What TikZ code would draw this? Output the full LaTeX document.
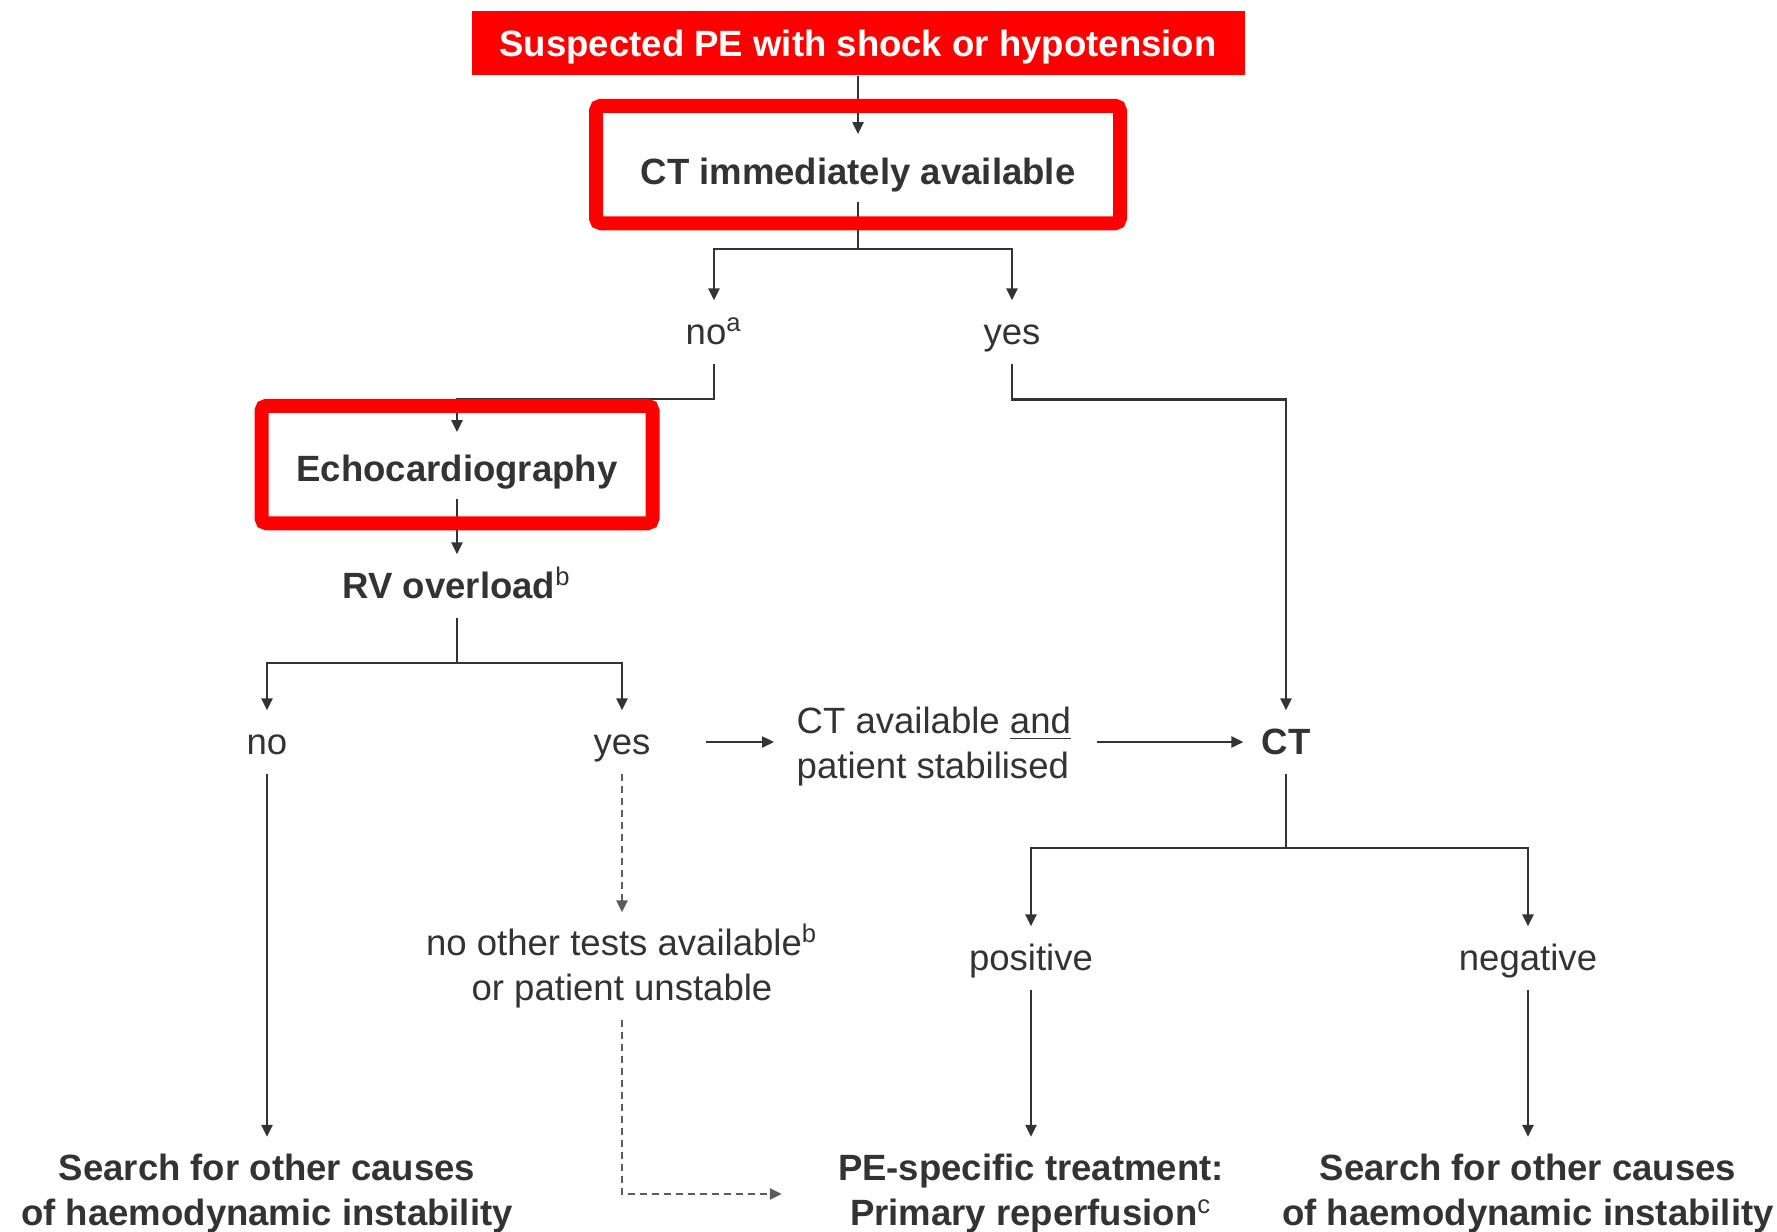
\documentclass[tikz,border=0pt]{standalone}
\usepackage{fontspec}
\setmainfont{Liberation Sans}
\usetikzlibrary{positioning,arrows.meta,backgrounds}
\definecolor{pered}{HTML}{FF0000}
\definecolor{ink}{HTML}{333333}

\begin{document}
\begin{tikzpicture}[
    on grid,
    every node/.style={text=ink},
    titlebox/.style={rectangle, fill=pered, text=white, minimum width=7.73cm, minimum height=0.64cm, inner sep=0pt, text height=9.6pt, text depth=2.2pt, font=\fontsize{10.4pt}{12.8pt}\selectfont\bfseries},
    redbox/.style={rectangle, draw=pered, line width=0.14cm, rounded corners=0.05cm, minimum height=1.175cm, inner sep=0pt, text depth=2.2pt, font=\fontsize{10.4pt}{12.8pt}\selectfont\bfseries},
    lbl/.style={inner sep=0pt, minimum height=0.62cm, text height=9.5pt, text depth=2.5pt, font=\fontsize{10.4pt}{12.8pt}\selectfont},
    lblb/.style={lbl, font=\fontsize{10.4pt}{12.8pt}\selectfont\bfseries},
    lbltwo/.style={align=center, inner sep=0.11cm, font=\fontsize{10.4pt}{12.8pt}\selectfont},
    endtxt/.style={align=center, inner sep=0.17cm, font=\fontsize{10.4pt}{12.8pt}\selectfont\bfseries},
    link/.style={draw=ink, line width=0.7pt},
    arr/.style={link, -{Triangle[length=0.12cm, width=0.11cm]}},
    dasharr/.style={arr, draw=ink!80, dash pattern=on 0.07cm off 0.05cm},
]
\useasboundingbox (0,0) rectangle (17.77,-12.32);

% entry and first decision
\node[titlebox] (top) at (8.58,-0.43) {Suspected PE with shock or hypotension};
\node[redbox, minimum width=5.24cm, text height=13.4pt, below=1.215cm of top] (ctnow) {CT immediately available};
\node[lbl, below left=1.675cm and 1.44cm of ctnow] (noa) {no\textsuperscript{a}};
\node[lbl, below right=1.675cm and 1.54cm of ctnow] (yesa) {yes};

% echo branch
\node[redbox, minimum width=3.91cm, text height=11.6pt, below left=1.325cm and 2.57cm of noa] (echo) {Echocardiography};
\node[lblb, below=1.215cm of echo] (rv) {RV overload\textsuperscript{\mdseries b}};
\node[lbl, below left=1.56cm and 1.90cm of rv] (nob) {no};
\node[lbl, below right=1.56cm and 1.65cm of rv] (yesb) {yes};
\node[lbltwo, inner sep=0pt, align=left, right=1.74cm of yesb, anchor=west, yshift=-0.045cm] (ctav) {CT available \underline{and}\\patient stabilised};
\node[lbltwo, below=2.24cm of yesb] (notest) {no other tests available\textsuperscript{b}\\or patient unstable};

% CT branch
\node[lblb, right=6.64cm of yesb] (ct) {CT};
\node[lbl, below left=2.16cm and 2.55cm of ct] (pos) {positive};
\node[lbl, below right=2.16cm and 2.42cm of ct] (neg) {negative};

% outcomes
\node[endtxt, below=4.52cm of nob] (search1) {Search for other causes\\of haemodynamic instability};
\node[endtxt, below=2.36cm of pos] (treat) {PE-specific treatment:\\Primary reperfusion\textsuperscript{\mdseries c}};
\node[endtxt, below=2.36cm of neg] (search2) {Search for other causes\\of haemodynamic instability};

\coordinate[below=0.845cm of ctnow] (ctfork);
\coordinate[below=0.77cm of rv] (rvfork);
\coordinate[below=1.06cm of ct] (ctfork2);

% connectors under the red frames
\begin{pgfonlayer}{background}
\draw[arr] (top.south) -- ([yshift=0.305cm]ctnow.center);
\draw[link] ([yshift=-0.375cm]ctnow.center) -- (ctfork);
\draw[arr] (ctfork) -| (noa.north);
\draw[arr] (ctfork) -| (yesa.north);
\draw[arr] (noa.south) |- ([yshift=0.655cm]echo.center) -- ([yshift=0.325cm]echo.center);
\draw[arr] (yesa.south) -- ++(0,-0.36) -| (ct.north);
\draw[arr] ([yshift=-0.345cm]echo.center) -- (rv.north);
\draw[link] (rv.south) -- (rvfork);
\draw[arr] (rvfork) -| (nob.north);
\draw[arr] (rvfork) -| (yesb.north);
\draw[arr, shorten <=0.545cm, shorten >=0.22cm] (yesb.east) -- (yesb -| ctav.west);
\draw[arr, shorten <=0.25cm, shorten >=0.175cm] (ct -| ctav.east) -- (ct.west);
\draw[link] (ct.south) -- (ctfork2);
\draw[arr] (ctfork2) -| (pos.north);
\draw[arr] (ctfork2) -| (neg.north);
\draw[arr] (nob.south) -- (search1.north);
\draw[arr] (pos.south) -- (treat.north);
\draw[arr] (neg.south) -- (search2.north);
\draw[dasharr] (yesb.south) -- (notest.north);
\draw[dasharr, shorten >=0.385cm] (notest.south) |- (treat.west);
\end{pgfonlayer}

\end{tikzpicture}
\end{document}
